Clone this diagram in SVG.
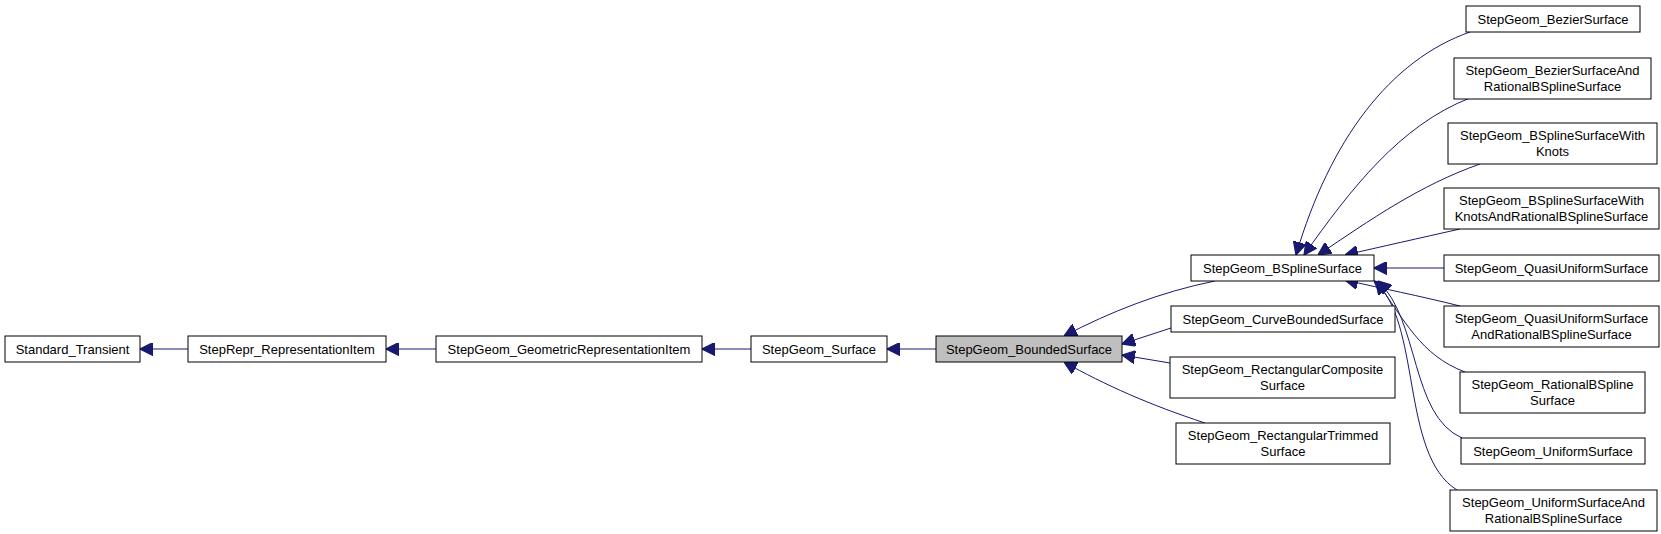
<svg xmlns="http://www.w3.org/2000/svg" width="1661" height="534" viewBox="0 0 1661 534">
<style>
rect{fill:#fff;stroke:#000;stroke-width:1}
text{font-family:"Liberation Sans",Arial,sans-serif;font-size:13px;text-anchor:middle;fill:#000}
.e{fill:none;stroke:#191970;stroke-width:1}
</style>
<defs><marker id="a" viewBox="0 0 10 10" refX="10" refY="5" markerWidth="13" markerHeight="13" markerUnits="userSpaceOnUse" orient="auto"><path d="M0,0L10,5L0,10z" fill="#191970" stroke="#191970"/></marker></defs>
<g id="edges">
<path class="e" marker-end="url(#a)" d="M188,349H140"/>
<path class="e" marker-end="url(#a)" d="M436,349H386"/>
<path class="e" marker-end="url(#a)" d="M751,349H702"/>
<path class="e" marker-end="url(#a)" d="M936,349H887"/>
<path class="e" marker-end="url(#a)" d="M1215,281C1160,292 1110,312 1064,336"/>
<path class="e" marker-end="url(#a)" d="M1171,328L1122,344"/>
<path class="e" marker-end="url(#a)" d="M1170,363L1122,355"/>
<path class="e" marker-end="url(#a)" d="M1205,423C1150,405 1105,385 1064,362"/>
<path class="e" marker-end="url(#a)" d="M1470,32C1390,60 1330,140 1296,255"/>
<path class="e" marker-end="url(#a)" d="M1470,98C1400,125 1350,190 1304,255"/>
<path class="e" marker-end="url(#a)" d="M1480,164C1420,185 1370,220 1318,255"/>
<path class="e" marker-end="url(#a)" d="M1460,229C1420,238 1380,247 1345,255"/>
<path class="e" marker-end="url(#a)" d="M1444,268H1374"/>
<path class="e" marker-end="url(#a)" d="M1460,306C1420,296 1380,288 1345,280"/>
<path class="e" marker-end="url(#a)" d="M1465,372C1420,355 1405,320 1376,281"/>
<path class="e" marker-end="url(#a)" d="M1462,438C1410,415 1420,320 1378,281"/>
<path class="e" marker-end="url(#a)" d="M1457,490C1400,455 1422,320 1374,281"/>
</g>
<g id="n1"><rect x="5" y="336" width="135" height="26"/><text x="72.5" y="354">Standard_Transient</text></g>
<g id="n2"><rect x="188" y="336" width="198" height="26"/><text x="287" y="354">StepRepr_RepresentationItem</text></g>
<g id="n3"><rect x="436" y="336" width="266" height="26"/><text x="569" y="354">StepGeom_GeometricRepresentationItem</text></g>
<g id="n4"><rect x="751" y="336" width="136" height="26"/><text x="819" y="354">StepGeom_Surface</text></g>
<g id="n5"><rect x="936" y="336" width="186" height="26" style="fill:#bfbfbf"/><text x="1029" y="354">StepGeom_BoundedSurface</text></g>
<g id="n6"><rect x="1191" y="255" width="183" height="26"/><text x="1282.5" y="273">StepGeom_BSplineSurface</text></g>
<g id="n7"><rect x="1171" y="306" width="224" height="26"/><text x="1283" y="324">StepGeom_CurveBoundedSurface</text></g>
<g id="n8"><rect x="1170" y="357" width="225" height="41"/><text x="1282.5" y="374">StepGeom_RectangularComposite</text><text x="1282.5" y="390">Surface</text></g>
<g id="n9"><rect x="1176" y="423" width="214" height="41"/><text x="1283" y="440">StepGeom_RectangularTrimmed</text><text x="1283" y="456">Surface</text></g>
<g id="n10"><rect x="1466" y="6" width="174" height="26"/><text x="1553" y="24">StepGeom_BezierSurface</text></g>
<g id="n11"><rect x="1454" y="58" width="197" height="41"/><text x="1552.5" y="75">StepGeom_BezierSurfaceAnd</text><text x="1552.5" y="91">RationalBSplineSurface</text></g>
<g id="n12"><rect x="1448" y="123" width="209" height="41"/><text x="1552.5" y="140">StepGeom_BSplineSurfaceWith</text><text x="1552.5" y="156">Knots</text></g>
<g id="n13"><rect x="1444" y="188" width="215" height="41"/><text x="1551.5" y="205">StepGeom_BSplineSurfaceWith</text><text x="1551.5" y="221">KnotsAndRationalBSplineSurface</text></g>
<g id="n14"><rect x="1444" y="255" width="215" height="26"/><text x="1551.5" y="273">StepGeom_QuasiUniformSurface</text></g>
<g id="n15"><rect x="1444" y="306" width="215" height="41"/><text x="1551.5" y="323">StepGeom_QuasiUniformSurface</text><text x="1551.5" y="339">AndRationalBSplineSurface</text></g>
<g id="n16"><rect x="1460" y="372" width="185" height="41"/><text x="1552.5" y="389">StepGeom_RationalBSpline</text><text x="1552.5" y="405">Surface</text></g>
<g id="n17"><rect x="1461" y="438" width="184" height="26"/><text x="1553" y="456">StepGeom_UniformSurface</text></g>
<g id="n18"><rect x="1450" y="490" width="207" height="41"/><text x="1553.5" y="507">StepGeom_UniformSurfaceAnd</text><text x="1553.5" y="523">RationalBSplineSurface</text></g>
</svg>
